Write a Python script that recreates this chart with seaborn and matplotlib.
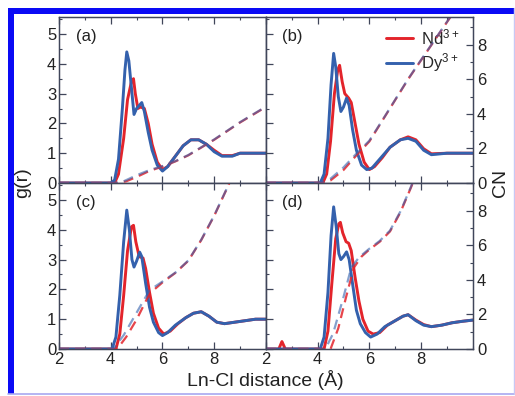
import matplotlib
matplotlib.use('Agg')
import matplotlib.pyplot as plt
from matplotlib.patches import Rectangle
from matplotlib.lines import Line2D
from matplotlib.ticker import MultipleLocator
import seaborn as sns
import numpy as np

# ---- data: g(r) and running coordination number ----
panel_labels = ["(a)", "(b)", "(c)", "(d)"]
series_names = ["Nd$^{3+}$", "Dy$^{3+}$"]

# (a)
a_r_dy = [2.0, 4.0, 4.15, 4.3, 4.45, 4.55, 4.62, 4.7, 4.8, 4.9, 5.0, 5.1, 5.2, 5.3, 5.45, 5.6, 5.8, 6.0,
          6.2, 6.5, 6.8, 7.1, 7.4, 7.7, 8.0, 8.3, 8.7, 9.0, 9.5, 10.0]
a_g_dy = [0, 0, 0.1, 0.8, 2.5, 3.8, 4.4, 4.1, 3.2, 2.3, 2.5, 2.6, 2.7, 2.4, 1.7, 1.1, 0.6, 0.4,
          0.55, 0.9, 1.25, 1.45, 1.45, 1.3, 1.05, 0.9, 0.9, 1.0, 1.0, 1.0]
a_r_nd = [2.0, 4.15, 4.3, 4.5, 4.65, 4.8, 4.88, 4.95, 5.05, 5.15, 5.3, 5.45, 5.6, 5.8, 6.0,
          6.2, 6.5, 6.8, 7.1, 7.4, 7.7, 8.0, 8.3, 8.7, 9.0, 9.5, 10.0]
a_g_nd = [0, 0, 0.3, 1.5, 2.8, 3.4, 3.5, 3.0, 2.5, 2.55, 2.5, 2.0, 1.3, 0.7, 0.45,
          0.55, 0.9, 1.25, 1.45, 1.45, 1.3, 1.1, 0.92, 0.92, 1.0, 1.0, 1.0]
a_rc_nd = [2.0, 4.2, 4.6, 5.0, 5.5, 6.0, 6.5, 7.0, 7.5, 8.0, 8.5, 9.0, 9.5, 10.0]
a_cn_nd = [0, 0, 0.1, 0.35, 0.7, 0.95, 1.25, 1.6, 2.05, 2.5, 3.0, 3.5, 3.95, 4.4]
a_rc_dy = [2.0, 4.1, 4.5, 5.0, 5.5, 6.0, 6.5, 7.0, 7.5, 8.0, 8.5, 9.0, 9.5, 10.0]
a_cn_dy = [0, 0, 0.1, 0.45, 0.75, 0.98, 1.27, 1.62, 2.07, 2.52, 3.02, 3.52, 3.97, 4.42]

# (b)
b_r_dy = [2.0, 4.1, 4.25, 4.4, 4.52, 4.62, 4.7, 4.8, 4.9, 5.0, 5.12, 5.22, 5.35, 5.5, 5.7, 5.9,
          6.1, 6.4, 6.8, 7.2, 7.5, 7.8, 8.1, 8.4, 9.0, 9.5, 10.0]
b_g_dy = [0, 0, 0.3, 1.5, 3.3, 4.35, 3.9, 2.9, 2.4, 2.55, 2.85, 2.6, 1.8, 1.1, 0.6, 0.45,
          0.5, 0.8, 1.2, 1.45, 1.5, 1.4, 1.1, 0.95, 1.0, 1.0, 1.0]
b_r_nd = [2.0, 4.2, 4.35, 4.5, 4.65, 4.78, 4.85, 4.95, 5.05, 5.2, 5.3, 5.45, 5.6, 5.8, 6.0,
          6.2, 6.5, 6.8, 7.2, 7.5, 7.8, 8.1, 8.4, 9.0, 9.5, 10.0]
b_g_nd = [0, 0, 0.3, 1.4, 3.0, 3.8, 3.95, 3.4, 3.0, 2.85, 2.7, 2.0, 1.3, 0.7, 0.45,
          0.55, 0.85, 1.2, 1.45, 1.55, 1.45, 1.15, 0.98, 1.0, 1.0, 1.0]
b_rc_nd = [2.0, 4.2, 4.5, 5.0, 5.5, 6.0, 6.5, 7.0, 7.5, 8.0, 8.5, 9.0, 9.5, 10.0]
b_cn_nd = [0, 0, 0.15, 0.75, 1.6, 2.4, 3.6, 4.8, 6.0, 7.1, 8.2, 9.3, 10.4, 11.5]
b_rc_dy = [2.0, 4.1, 4.5, 5.0, 5.5, 6.0, 6.5, 7.0, 7.5, 8.0, 8.5, 9.0, 9.5, 10.0]
b_cn_dy = [0, 0, 0.25, 0.9, 1.7, 2.45, 3.62, 4.82, 6.02, 7.12, 8.22, 9.32, 10.42, 11.52]

# (c)
c_r_dy = [2.0, 4.05, 4.2, 4.35, 4.5, 4.62, 4.72, 4.82, 4.9, 5.0, 5.12, 5.2, 5.35, 5.5, 5.65, 5.85,
          6.0, 6.2, 6.5, 6.9, 7.2, 7.5, 7.8, 8.1, 8.4, 8.8, 9.2, 9.6, 10.0]
c_g_dy = [0, 0, 0.4, 1.8, 3.6, 4.66, 4.0, 3.0, 2.75, 2.95, 3.25, 3.1, 2.2, 1.4, 0.9, 0.55,
          0.45, 0.55, 0.8, 1.05, 1.2, 1.25, 1.1, 0.9, 0.85, 0.9, 0.95, 1.0, 1.0]
c_r_nd = [2.0, 4.2, 4.35, 4.5, 4.65, 4.8, 4.88, 4.97, 5.1, 5.25, 5.35, 5.5, 5.65, 5.85, 6.05,
          6.3, 6.6, 6.9, 7.2, 7.5, 7.8, 8.1, 8.4, 8.8, 9.2, 9.6, 10.0]
c_g_nd = [0, 0, 0.5, 1.8, 3.3, 4.1, 4.15, 3.6, 3.1, 3.05, 2.7, 1.9, 1.2, 0.7, 0.5,
          0.6, 0.85, 1.05, 1.2, 1.25, 1.1, 0.9, 0.85, 0.9, 0.95, 1.0, 1.0]
c_rc_nd = [2.0, 4.25, 4.6, 5.0, 5.5, 6.0, 6.5, 7.0, 7.5, 8.0, 8.5, 9.0]
c_cn_nd = [0, 0, 0.7, 1.7, 3.2, 3.85, 4.4, 5.1, 6.3, 7.7, 9.3, 11.0]
c_rc_dy = [2.0, 4.1, 4.5, 5.0, 5.5, 6.0, 6.5, 7.0, 7.5, 8.0, 8.5, 9.0]
c_cn_dy = [0, 0, 0.8, 2.1, 3.4, 3.9, 4.42, 5.12, 6.32, 7.72, 9.32, 11.02]

# (d)
d_r_dy = [2.0, 4.1, 4.25, 4.4, 4.52, 4.62, 4.72, 4.82, 4.9, 5.0, 5.12, 5.22, 5.35, 5.5, 5.65, 5.85,
          6.05, 6.3, 6.6, 7.0, 7.3, 7.5, 7.8, 8.1, 8.4, 8.8, 9.2, 9.6, 10.0]
d_g_dy = [0, 0, 0.4, 1.9, 3.8, 4.77, 4.1, 3.2, 3.0, 3.1, 3.26, 3.0, 2.2, 1.3, 0.85, 0.55,
          0.4, 0.5, 0.75, 0.95, 1.1, 1.15, 0.95, 0.8, 0.75, 0.8, 0.88, 0.93, 0.97]
d_r_nd = [2.0, 2.5, 2.62, 2.75, 4.25, 4.4, 4.55, 4.7, 4.82, 4.88, 4.97, 5.1, 5.2, 5.3, 5.45, 5.6,
          5.75, 5.95, 6.15, 6.4, 6.7, 7.0, 7.3, 7.5, 7.8, 8.1, 8.4, 8.8, 9.2, 9.6, 10.0]
d_g_nd = [0, 0, 0.25, 0, 0, 0.6, 2.2, 3.7, 4.2, 4.25, 3.9, 3.6, 3.55, 3.3, 2.4, 1.6,
          1.0, 0.6, 0.5, 0.55, 0.8, 0.95, 1.1, 1.15, 0.97, 0.82, 0.75, 0.8, 0.88, 0.93, 0.97]
d_rc_nd = [2.0, 4.5, 4.8, 5.1, 5.4, 5.7, 6.0, 6.4, 6.8, 7.2, 7.6, 8.0]
d_cn_nd = [0, 0, 1.2, 3.0, 4.7, 5.35, 5.75, 6.2, 6.8, 7.9, 9.3, 10.8]
d_rc_dy = [2.0, 4.3, 4.6, 5.0, 5.3, 5.6, 6.0, 6.4, 6.8, 7.2, 7.6, 8.0]
d_cn_dy = [0, 0, 0.9, 3.0, 4.7, 5.3, 5.8, 6.25, 6.85, 7.95, 9.35, 10.85]

panels = [
    (a_r_nd, a_g_nd, a_r_dy, a_g_dy, a_rc_nd, a_cn_nd, a_rc_dy, a_cn_dy),
    (b_r_nd, b_g_nd, b_r_dy, b_g_dy, b_rc_nd, b_cn_nd, b_rc_dy, b_cn_dy),
    (c_r_nd, c_g_nd, c_r_dy, c_g_dy, c_rc_nd, c_cn_nd, c_rc_dy, c_cn_dy),
    (d_r_nd, d_g_nd, d_r_dy, d_g_dy, d_rc_nd, d_cn_nd, d_rc_dy, d_cn_dy),
]

RED = "#e3242b"
BLUE = "#3461ad"
SPINE = "#40465a"

sns.set_style("ticks")
plt.rcParams['font.family'] = ['Liberation Sans', 'DejaVu Sans']
plt.rcParams['mathtext.fontset'] = 'custom'
plt.rcParams['mathtext.rm'] = 'Liberation Sans'
plt.rcParams['mathtext.default'] = 'regular'
plt.rcParams['axes.edgecolor'] = SPINE
plt.rcParams['xtick.color'] = SPINE
plt.rcParams['ytick.color'] = SPINE
plt.rcParams['xtick.labelcolor'] = '#222222'
plt.rcParams['ytick.labelcolor'] = '#222222'

fig = plt.figure(figsize=(5.15, 3.96), dpi=100)
axes = fig.subplots(2, 2)
fig.subplots_adjust(left=0.1146, right=0.918, top=0.957, bottom=0.1187, wspace=0, hspace=0)

for i, ax in enumerate(axes.flat):
    r_nd, g_nd, r_dy, g_dy, rc_nd, cn_nd, rc_dy, cn_dy = panels[i]
    row, col = divmod(i, 2)

    sns.lineplot(x=r_nd, y=g_nd, ax=ax, color=RED, lw=2.1, label=series_names[0], legend=False)
    sns.lineplot(x=r_dy, y=g_dy, ax=ax, color=BLUE, lw=2.1, label=series_names[1], legend=False)

    ax.set_xlim(2, 10)
    ax.set_ylim(0, 5.57)
    ax.xaxis.set_major_locator(MultipleLocator(2))
    ax.xaxis.set_minor_locator(MultipleLocator(1))
    ax.yaxis.set_major_locator(MultipleLocator(1))
    ax.yaxis.set_minor_locator(MultipleLocator(0.5))
    ax.set_xticks([2, 4, 6, 8])
    ax.tick_params(which='both', direction='in', top=True, right=False, labelsize=12, pad=2)
    ax.tick_params(which='major', length=5, width=0.9)
    ax.tick_params(which='minor', length=2.5, width=0.8)
    if row == 0:
        ax.tick_params(labelbottom=False)
    if col == 1:
        ax.tick_params(labelleft=False)
    for s in ax.spines.values():
        s.set_linewidth(1.0)

    tw = ax.twinx()
    sns.lineplot(x=rc_nd, y=cn_nd, ax=tw, color=RED, lw=1.6, alpha=0.85, legend=False)
    sns.lineplot(x=rc_dy, y=cn_dy, ax=tw, color=BLUE, lw=1.6, alpha=0.6, legend=False)
    for ln in tw.lines:
        ln.set_dashes([4.5, 2.8])
    tw.set_ylim(0, 9.6)
    tw.set_xlim(2, 10)
    tw.yaxis.set_major_locator(MultipleLocator(2))
    tw.yaxis.set_minor_locator(MultipleLocator(1))
    tw.tick_params(which='both', direction='in', labelsize=12, pad=3)
    tw.tick_params(which='major', length=5, width=0.9)
    tw.tick_params(which='minor', length=2.5, width=0.8)
    if col == 0:
        tw.tick_params(which='both', right=False, labelright=False)
    tw.set_ylabel("")

    ax.text(0.08, 0.885, panel_labels[i], transform=ax.transAxes, fontsize=12,
            va='center', ha='left', color='#222222')

    if i == 1:
        ax.legend(loc='upper right', bbox_to_anchor=(0.985, 1.0), frameon=False, fontsize=12,
                  handlelength=1.6, handletextpad=0.5, labelspacing=0.25, borderaxespad=0.2)

fig.text(0.043, 0.538, "g(r)", rotation=90, ha='center', va='center', fontsize=14, color='#222222')
fig.text(0.972, 0.538, "CN", rotation=90, ha='center', va='center', fontsize=14, color='#222222')
fig.text(0.515, 0.04, "Ln-Cl distance (Å)", ha='center', va='center', fontsize=14, color='#222222')

# blue frame around the figure
fig.patches.append(Rectangle((8 / 515, 1 - 14 / 396), 506 / 515, 6 / 396, transform=fig.transFigure,
                             facecolor='#0a0af5', edgecolor='none', zorder=0))
fig.patches.append(Rectangle((8 / 515, 1 - 394 / 396), 6 / 515, 386 / 396, transform=fig.transFigure,
                             facecolor='#0a0af5', edgecolor='none', zorder=0))
fig.lines.append(Line2D([8 / 515, 514 / 515], [1 - 394 / 396] * 2, transform=fig.transFigure,
                        color='#a8a8f0', lw=1.2))
fig.lines.append(Line2D([514 / 515] * 2, [1 - 394 / 396, 1 - 8 / 396], transform=fig.transFigure,
                        color='#c8c8f4', lw=1.0))

fig.savefig("out.png", dpi=100)
